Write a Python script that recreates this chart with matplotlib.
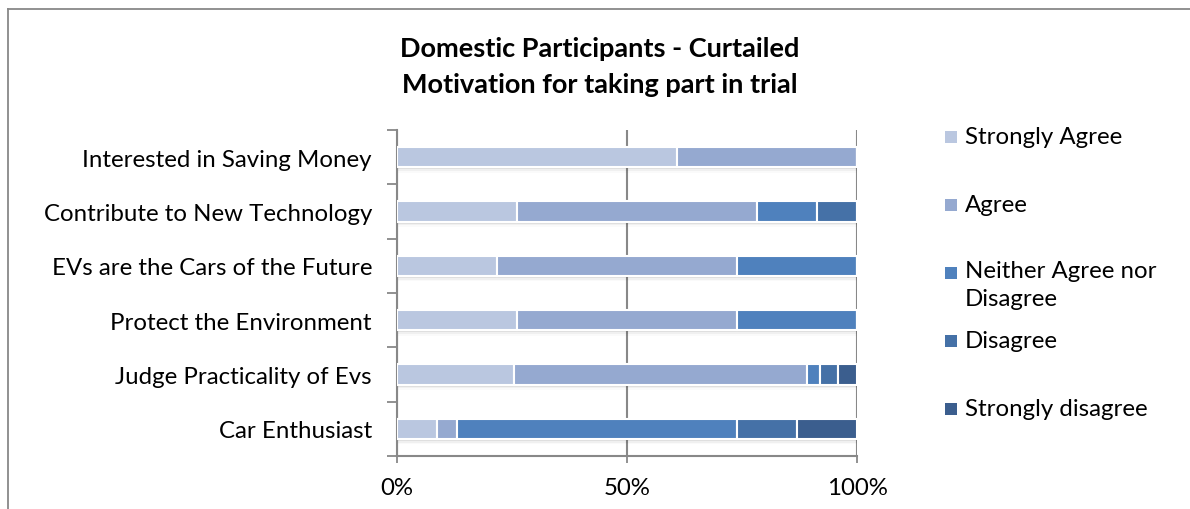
import matplotlib.pyplot as plt
import numpy as np
from matplotlib.lines import Line2D
from matplotlib.patches import Rectangle

# categories, top to bottom as in the chart
categories = [
    "Interested in Saving Money",
    "Contribute to New Technology",
    "EVs are the Cars of the Future",
    "Protect the Environment",
    "Judge Practicality of Evs",
    "Car Enthusiast",
]
series_names = [
    "Strongly Agree",
    "Agree",
    "Neither Agree nor\nDisagree",
    "Disagree",
    "Strongly disagree",
]
# percentage of respondents per category
strongly_agree = [60.9, 26.1, 21.7, 26.1, 25.4, 8.7]
agree = [39.1, 52.2, 52.2, 47.8, 63.7, 4.3]
neither = [0.0, 13.0, 26.1, 26.1, 2.9, 60.9]
disagree = [0.0, 8.7, 0.0, 0.0, 3.8, 13.0]
strongly_disagree = [0.0, 0.0, 0.0, 0.0, 4.2, 13.1]

colors = ["#BAC7E0", "#95A9D0", "#4F81BD", "#4571A7", "#3B5E8E"]

plt.rcParams["font.family"] = ["Lato", "DejaVu Sans"]
fs = 17.3

fig = plt.figure(figsize=(11.9, 5.1), dpi=100)
ax = fig.add_axes([397 / 1190, 1 - 457 / 510, 460 / 1190, 326 / 510])

values = np.array([strongly_agree, agree, neither, disagree, strongly_disagree])
y = np.arange(len(categories))
left = np.zeros(len(categories))
bar_h = 0.37
for i, vals in enumerate(values):
    # soft shadow under each segment
    for off, a in [(0.04, 0.07), (0.07, 0.04), (0.10, 0.02)]:
        ax.barh(y + off, vals, left=left, height=bar_h, color="#000000", alpha=a,
                linewidth=0, zorder=2)
    ax.barh(y, vals, left=left, height=bar_h, color=colors[i], edgecolor="white",
            linewidth=1.5, zorder=3)
    left += vals

ax.set_xlim(0, 100)
ax.set_ylim(len(categories) - 0.5, -0.5)
ax.set_xticks([0, 50, 100])
ax.set_xticklabels(["0%", "50%", "100%"], fontsize=fs)
ax.set_yticks(y)
ax.set_yticklabels(categories, fontsize=fs)
ax.tick_params(axis="y", length=0, pad=18)
ax.set_yticks(np.arange(len(categories) + 1) - 0.5, minor=True)
ax.tick_params(axis="y", which="minor", length=7, width=1.3, color="#888888")
ax.tick_params(axis="x", length=5, width=1.3, color="#888888", pad=10)
ax.xaxis.grid(True, color="#888888", linewidth=1.5, zorder=0)
ax.set_axisbelow(True)
for s in ["top", "right"]:
    ax.spines[s].set_visible(False)
for s in ["left", "bottom"]:
    ax.spines[s].set_color("#888888")
    ax.spines[s].set_linewidth(1.5)

fig.text(600 / 1190, 1 - 67 / 510,
         "Domestic Participants - Curtailed\nMotivation for taking part in trial",
         ha="center", va="center", fontsize=19.5, fontweight="bold", linespacing=1.6)

# legend drawn by hand to keep the original spacing
legend_y = [138, 206, 274, 342, 410]
for name, col, ly in zip(series_names, colors, legend_y):
    fig.add_artist(Rectangle((945 / 1190, 1 - (ly + 6) / 510), 12 / 1190, 12 / 510,
                             transform=fig.transFigure, facecolor=col, edgecolor="none"))
    if "\n" in name:
        fig.text(965 / 1190, 1 - (ly - 13) / 510, name, ha="left", va="top",
                 fontsize=fs, linespacing=1.4)
    else:
        fig.text(965 / 1190, 1 - ly / 510, name, ha="left", va="center", fontsize=fs)

# chart border
fig.add_artist(Line2D([8 / 1190, 8 / 1190], [0, 1 - 10 / 510], color="#888888", linewidth=1.3))
fig.add_artist(Line2D([8 / 1190, 1], [1 - 10 / 510, 1 - 10 / 510], color="#888888", linewidth=1.3))

plt.savefig("out.png")
plt.close()
